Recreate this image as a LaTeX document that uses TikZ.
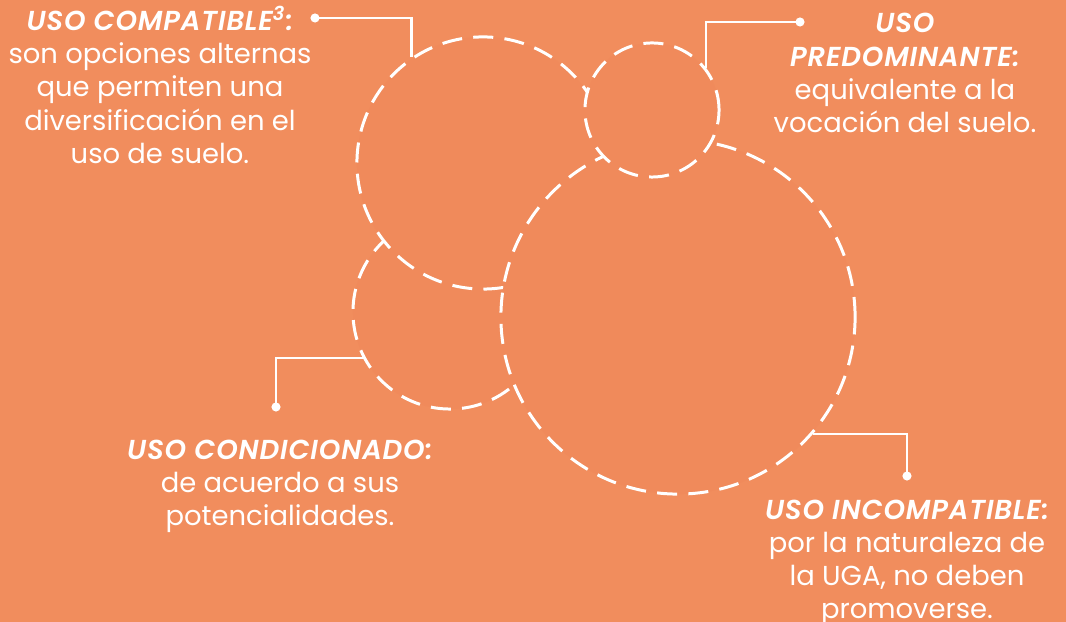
\documentclass[tikz,border=0pt]{standalone}
\usepackage{fontspec}
\setmainfont{Poppins}
\newfontfamily\titlefont{Poppins SemiBold Italic}[LetterSpace=3]
\usetikzlibrary{positioning,calc}

\definecolor{bgorange}{RGB}{241,141,93}
\definecolor{zoneorange}{RGB}{240,138,91}

\newcommand{\ttl}[1]{{\titlefont #1}}

\tikzset{
    zone/.style={circle, draw=white, fill=zoneorange, line width=0.85pt,
        dash pattern=on 5.7pt off 3.2pt, inner sep=0pt},
    lbl/.style={text=white, align=center, font=\fontsize{7.8}{9.4}\selectfont},
    pin/.style={circle, fill=white, inner sep=0pt, minimum size=2.6pt},
    lead/.style={white, line width=0.7pt}
}

\begin{document}
\begin{tikzpicture}[x=0.01cm, y=-0.01cm]

% Background
\fill [bgorange] (0,0) rectangle (1066,622);
\useasboundingbox (0,0) rectangle (1066,622);

% Circles (drawn bottom to top)
\node (cnd) at (450,312) [zone, minimum size=1.94cm] {};
\node (cmp) at (483,163) [zone, minimum size=2.52cm] {};
\node (big) at (678,317) [zone, minimum size=3.54cm] {};
\node (sml) at (652,110) [zone, minimum size=1.34cm] {};

% Labels
\node (lblCmp) at (160,85) [lbl] {\ttl{USO COMPATIBLE\textsuperscript{3}:}\\son opciones alternas\\que permiten una\\diversificación en el\\uso de suelo.};
\node (lblPre) at (905,73) [lbl] {\ttl{USO}\\\ttl{PREDOMINANTE:}\\equivalente a la\\vocación del suelo.};
\node (lblCon) at (280,486) [lbl] {\ttl{USO CONDICIONADO:}\\de acuerdo a sus\\potencialidades.};
\node (lblInc) at (907,563) [lbl] {\ttl{USO INCOMPATIBLE:}\\por la naturaleza de\\la UGA, no deben\\promoverse.};

% Leader lines
\node (dotCmp) at (315,18) [pin] {};
\node (dotPre) at (800,22) [pin] {};
\node (dotCon) at (276,407) [pin] {};
\node (dotInc) at (907,476) [pin] {};

\draw [lead] (dotCmp.center) -| (cmp.124.8);
\draw [lead] (dotPre.center) -| (sml.38);
\draw [lead] (dotCon.center) |- (cnd.208.4);
\draw [lead] (dotInc.center) |- (big.319.5);

\end{tikzpicture}
\end{document}
